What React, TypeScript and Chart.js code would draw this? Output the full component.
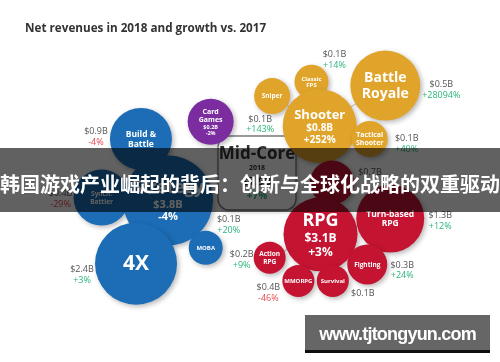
import React, { useEffect, useRef } from "react";
import { Chart, registerables } from "chart.js";

Chart.register(...registerables);

// ---------- data ----------
const TITLE = "Net revenues in 2018 and growth vs. 2017";
const BANNER = "韩国游戏产业崛起的背后：创新与全球化战略的双重驱动";
const WATERMARK = "www.tjtongyun.com";

const HUB_NAME = "Mid-Core";
const HUB_YEAR = "2018";
const HUB_REVENUE = 7.9;
const HUB_GROWTH = 7;

const genres = [
  "Battle\nRoyale", "Classic\nFPS", "Sniper", "Shooter", "Tactical\nShooter",
  "Card\nGames",
  "Build &\nBattle", "Synch.\nBattler", "Strategy", "4X", "MOBA",
  "", "RPG", "Turn-based\nRPG", "Action\nRPG", "Fighting", "MMORPG", "Survival",
];
const revenueB = [0.5, 0.1, 0.1, 0.8, 0.1, 0.2, 0.9, 0.4, 3.8, 2.4, 0.1, 0.7, 3.1, 1.3, 0.2, 0.3, 0.4, 0.1];
const growthPct: (number | null)[] = [28094, 14, 143, 252, 40, -2, -4, -29, -4, 3, 20, null, 3, 12, 9, 24, -46, null];
// index of parent genre (-1 = Mid-Core hub)
const parentIdx = [3, 3, 3, -1, 3, -1, 8, 8, -1, 8, 8, 12, -1, 12, 12, 12, 12, 12];
const family = ["shooter", "shooter", "shooter", "shooter", "shooter", "card",
  "strategy", "strategy", "strategy", "strategy", "strategy",
  "rpg", "rpg", "rpg", "rpg", "rpg", "rpg", "rpg"];

// ---------- layout (bubble placement on a 500 x 362 plane) ----------
const bubbleX = [415, 325, 277, 335, 396, 202, 117, 69, 150, 111, 196, 350, 336, 421, 274, 393, 309, 351];
const bubbleY = [54, 49, 68, 108, 125, 102, 125, 203, 207, 291, 270, 183, 252, 231, 283, 292, 314, 314];
const bubbleR = [35, 17, 18, 37, 18, 23, 31, 28, 45, 41, 17, 22, 37, 34, 16, 20, 16, 16];

// ---------- styles ----------
const COLORS: Record<string, string> = {
  shooter: "#E1A42A",
  card: "#7B2D9F",
  strategy: "#1C6DB6",
  rpg: "#C51432",
};
const nameSize = [14, 6, 6.5, 13, 7, 7, 8.5, 6.5, 17, 21, 6, 7, 18, 8.5, 6.5, 6.5, 6, 6];
const valueInside = [false, false, false, true, false, true, false, false, true, false, false, false, true, false, false, false, false, false];
const insideValueSize = [0, 0, 0, 10, 0, 5.5, 0, 0, 11, 0, 0, 0, 12, 0, 0, 0, 0, 0];
// outside value label offset (center x, first-line y) relative to bubble centre
const outDX = [56, 23, -12, 0, 37, 0, -45, -41, 0, -54, 23, 38, 0, 50, -28, 35, -30, 30];
const outDY = [-1, -27, 23, 0, 0, 0, -7, -4, 0, 6, -28, -10, 0, -3, -3, 1, 7, 13];

const HUB_BOX = { x: 218, y: 136, w: 78, h: 74, r: 11 };

const FONT = "'Open Sans', 'DejaVu Sans', sans-serif";
const GREEN = "#2BB57B";
const RED = "#E8474F";
const GRAY = "#555555";

const fmtRev = (v: number) => "$" + v.toFixed(1) + "B";
const fmtGrowth = (g: number) => (g > 0 ? "+" : "") + g + "%";

export default function App() {
  const canvasRef = useRef<HTMLCanvasElement | null>(null);

  useEffect(() => {
    if (!canvasRef.current) return;
    const hubCx = HUB_BOX.x + HUB_BOX.w / 2;
    const hubCy = HUB_BOX.y + HUB_BOX.h / 2;

    const decor = {
      id: "decor",
      beforeDatasetsDraw(chart: any) {
        const ctx: CanvasRenderingContext2D = chart.ctx;
        const meta = chart.getDatasetMeta(0);
        const pos = (i: number) =>
          i < 0 ? { x: hubCx, y: hubCy } : { x: meta.data[i].x, y: meta.data[i].y };
        ctx.save();
        // title
        ctx.fillStyle = "#333333";
        ctx.font = `bold 11.7px ${FONT}`;
        ctx.textAlign = "left";
        ctx.textBaseline = "middle";
        ctx.fillText(TITLE, 25, 29);
        // connectors
        ctx.strokeStyle = "#CFCFCF";
        ctx.lineWidth = 1.2;
        parentIdx.forEach((p, i) => {
          const a = pos(i);
          const b = pos(p);
          ctx.beginPath();
          ctx.moveTo(a.x, a.y);
          ctx.lineTo(b.x, b.y);
          ctx.stroke();
        });
        // hub box
        ctx.shadowColor = "rgba(0,0,0,0.25)";
        ctx.shadowBlur = 4;
        ctx.shadowOffsetX = 1;
        ctx.shadowOffsetY = 2;
        ctx.fillStyle = "#FFFFFF";
        ctx.beginPath();
        (ctx as any).roundRect(HUB_BOX.x, HUB_BOX.y, HUB_BOX.w, HUB_BOX.h, HUB_BOX.r);
        ctx.fill();
        ctx.shadowColor = "transparent";
        ctx.strokeStyle = "#7A7A7A";
        ctx.lineWidth = 1.3;
        ctx.stroke();
        ctx.textAlign = "center";
        ctx.fillStyle = "#333333";
        ctx.font = `bold 17px ${FONT}`;
        ctx.fillText(HUB_NAME, hubCx, HUB_BOX.y + 18);
        ctx.font = `bold 7px ${FONT}`;
        ctx.fillText(HUB_YEAR, hubCx, HUB_BOX.y + 32);
        ctx.font = `bold 11px ${FONT}`;
        ctx.fillText(fmtRev(HUB_REVENUE), hubCx, HUB_BOX.y + 46);
        ctx.fillStyle = GREEN;
        ctx.font = `bold 10px ${FONT}`;
        ctx.fillText(fmtGrowth(HUB_GROWTH), hubCx, HUB_BOX.y + 60);
        ctx.restore();
        // bubble shadow (kept until datasets are drawn)
        ctx.save();
        ctx.shadowColor = "rgba(0,0,0,0.28)";
        ctx.shadowBlur = 5;
        ctx.shadowOffsetX = 2;
        ctx.shadowOffsetY = 2;
      },
      afterDatasetsDraw(chart: any) {
        const ctx: CanvasRenderingContext2D = chart.ctx;
        ctx.restore();
        const meta = chart.getDatasetMeta(0);
        ctx.save();
        ctx.textAlign = "center";
        ctx.textBaseline = "middle";
        genres.forEach((g, i) => {
          const el = meta.data[i];
          const cx = el.x;
          const cy = el.y;
          // inner label
          const lines: { t: string; s: number }[] = [];
          if (g) g.split("\n").forEach((t) => lines.push({ t, s: nameSize[i] }));
          if (valueInside[i]) {
            lines.push({ t: fmtRev(revenueB[i]), s: insideValueSize[i] });
            const gr = growthPct[i];
            if (gr !== null) lines.push({ t: fmtGrowth(gr), s: insideValueSize[i] });
          }
          const total = lines.reduce((acc, l) => acc + l.s * 1.15, 0);
          let y = cy - total / 2;
          ctx.fillStyle = "#FFFFFF";
          lines.forEach((l) => {
            const lh = l.s * 1.15;
            ctx.font = `bold ${l.s}px ${FONT}`;
            ctx.fillText(l.t, cx, y + lh / 2 + 0.5);
            y += lh;
          });
          // outside label
          if (!valueInside[i]) {
            const ox = cx + outDX[i];
            const oy = cy + outDY[i];
            ctx.font = `9px ${FONT}`;
            ctx.fillStyle = GRAY;
            ctx.fillText(fmtRev(revenueB[i]), ox, oy);
            const gr = growthPct[i];
            if (gr !== null) {
              ctx.fillStyle = gr >= 0 ? GREEN : RED;
              ctx.fillText(fmtGrowth(gr), ox, oy + 10.5);
            }
          }
        });
        ctx.restore();
      },
    };

    const chart = new Chart(canvasRef.current, {
      type: "bubble",
      data: {
        datasets: [
          {
            label: "Net revenues 2018",
            data: genres.map((_, i) => ({ x: bubbleX[i], y: bubbleY[i], r: bubbleR[i] })),
            backgroundColor: family.map((f) => COLORS[f]),
            borderWidth: 0,
            clip: false as any,
          },
        ],
      },
      options: {
        responsive: false,
        animation: false,
        events: [],
        layout: { padding: 0 },
        scales: {
          x: { type: "linear", min: 0, max: 500, display: false },
          y: { type: "linear", min: 0, max: 362, reverse: true, display: false },
        },
        plugins: {
          legend: { display: false },
          tooltip: { enabled: false },
          title: { display: false },
        },
      },
      plugins: [decor as any],
    });
    return () => chart.destroy();
  }, []);

  return (
    <div style={{ position: "fixed", left: 0, top: 0, width: 500, height: 362, background: "#FFFFFF", overflow: "hidden" }}>
      <canvas ref={canvasRef} width={500} height={362} style={{ display: "block" }} />
      <div
        style={{
          position: "absolute", left: 0, top: 148, width: 500, height: 64,
          background: "rgba(0,0,0,0.62)", color: "#FFFFFF",
          fontFamily: "'Noto Sans CJK SC', sans-serif", fontWeight: 700, fontSize: 20,
          lineHeight: "56px", paddingTop: 8, boxSizing: "border-box",
          textAlign: "center", whiteSpace: "nowrap", overflow: "hidden",
        }}
      >
        {BANNER}
      </div>
      <div
        style={{
          position: "absolute", left: 305, top: 315, width: 185, height: 38,
          background: "rgba(0,0,0,0.6)", borderBottom: "3px solid rgba(0,0,0,0.85)",
          boxSizing: "border-box", color: "#FFFFFF",
          fontFamily: "'Liberation Sans', Arial, sans-serif", fontWeight: 700, fontSize: 18,
          letterSpacing: -0.8, lineHeight: "35px", paddingTop: 2,
          textAlign: "center", whiteSpace: "nowrap",
        }}
      >
        {WATERMARK}
      </div>
    </div>
  );
}
